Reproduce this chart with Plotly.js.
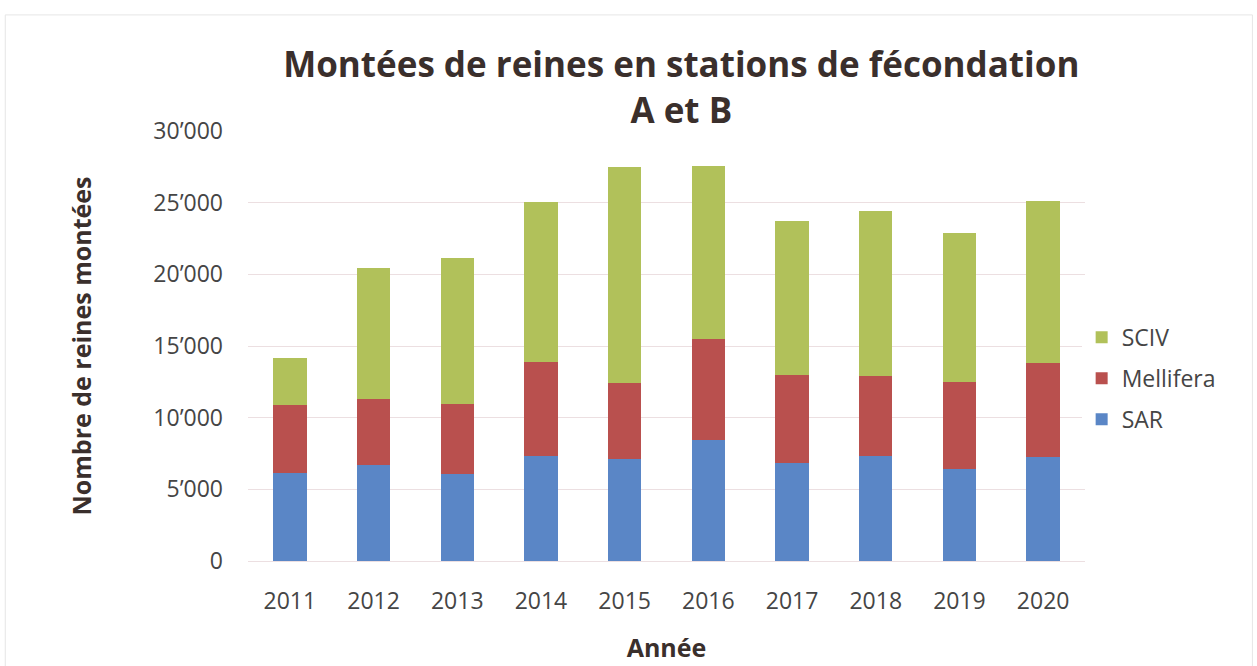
<!DOCTYPE html>
<html>
<head>
<meta charset="utf-8">
<script src="https://cdn.plot.ly/plotly-3.0.1.min.js"></script>
<style>
  html, body { margin: 0; padding: 0; background: #fff; }
  #chart { width: 1257px; height: 666px; }
</style>
</head>
<body>
<div id="chart"></div>
<script>
// Queens brought to mating stations A and B, per year and breed
const years = ['2011', '2012', '2013', '2014', '2015', '2016', '2017', '2018', '2019', '2020'];
const sar = [6140, 6680, 6100, 7300, 7120, 8420, 6840, 7350, 6420, 7260];
const mellifera = [4720, 4620, 4850, 6560, 5280, 7100, 6170, 5590, 6050, 6550];
const sciv = [3300, 9170, 10170, 11170, 15090, 12070, 10740, 11480, 10410, 11290];

const fontFam = 'Open Sans, Arial, sans-serif';
const textGray = '#454545';
const titleColor = '#3a2f2c';

function barTrace(name, values, color, rank) {
  return {
    x: years,
    y: values,
    name: name,
    type: 'bar',
    legendgroup: name,
    legendrank: rank,
    marker: { color: color, line: { width: 0 } },
    hovertemplate: name + ' %{x}: %{y}<extra></extra>'
  };
}

const traces = [
  barTrace('SAR', sar, '#5A86C6', 3),
  barTrace('Mellifera', mellifera, '#B9504E', 2),
  barTrace('SCIV', sciv, '#B1C15A', 1)
];

const layout = {
  width: 1257,
  height: 666,
  paper_bgcolor: '#fff',
  plot_bgcolor: '#fff',
  barmode: 'stack',
  bargap: 0.6,
  separators: '.’',
  font: { family: fontFam, size: 23, color: textGray },
  title: {
    text: '<b>Montées de reines en stations de fécondation<br>A et B</b>',
    font: { family: fontFam, size: 35, color: titleColor },
    x: 0.542,
    xanchor: 'center',
    y: 0.884,
    yanchor: 'middle'
  },
  xaxis: {
    type: 'category',
    title: { text: '<b>Année</b>', font: { size: 25, color: titleColor }, standoff: 24 },
    tickfont: { size: 23, color: textGray },
    ticklabelstandoff: 24,
    showgrid: false,
    zeroline: false,
    showline: false,
    ticks: ''
  },
  yaxis: {
    title: { text: '<b>Nombre de reines montées</b>', font: { size: 25, color: titleColor }, standoff: 54 },
    range: [0, 30000],
    dtick: 5000,
    tickformat: ',',
    tickfont: { size: 23, color: textGray },
    ticklabelstandoff: 24,
    showgrid: true,
    gridcolor: '#ecdfe1',
    gridwidth: 1,
    zeroline: true,
    zerolinecolor: '#ecdfe1',
    showline: false,
    ticks: ''
  },
  legend: {
    x: 0.996,
    xanchor: 'left',
    y: 0.57,
    yanchor: 'top',
    traceorder: 'grouped',
    tracegroupgap: 8,
    font: { size: 23, color: textGray },
    itemwidth: 30
  },
  shapes: [{
    type: 'rect', xref: 'paper', yref: 'paper',
    x0: -0.29, x1: 1.2, y0: -0.25, y1: 1.27,
    line: { color: '#e6e6e6', width: 1 }
  }],
  margin: { l: 248, r: 172, t: 131, b: 105 },
  hovermode: 'closest'
};

Plotly.newPlot('chart', traces, layout, { displayModeBar: false, responsive: false });
</script>
</body>
</html>
